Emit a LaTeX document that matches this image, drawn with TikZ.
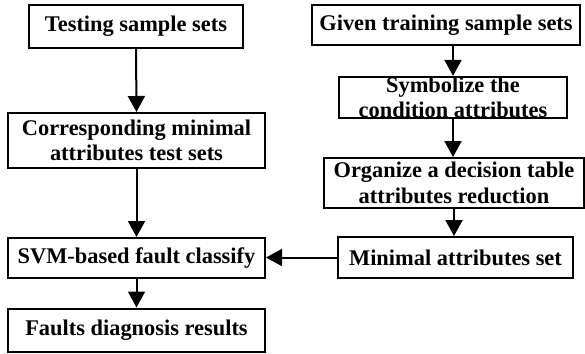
\documentclass[tikz,border=0pt]{standalone}
\usepackage{fontspec}
\setmainfont{Liberation Serif}
\usetikzlibrary{arrows.meta}
\begin{document}
\begin{tikzpicture}[x=1pt,y=-1pt,
  box/.style={draw=black, line width=2pt, fill=white, inner sep=0pt, align=center,
    font=\fontsize{22.4}{25.5}\selectfont\bfseries},
  flow/.style={line width=2pt, -{Triangle[length=16pt,width=17pt]}}]
  \useasboundingbox[fill=white] (0,0) rectangle (585,353);
  % left column
  \node[box, minimum width=214pt, minimum height=43pt] (test) at (136,26.5) {Testing sample sets};
  \node[box, minimum width=257pt, minimum height=55pt] (corr) at (136.5,140.5) {Corresponding minimal\\attributes test sets};
  \node[box, minimum width=257pt, minimum height=40pt] (svm) at (136.5,258) {SVM-based fault classify};
  \node[box, minimum width=257pt, minimum height=43pt] (res) at (136.5,330) {Faults diagnosis results};
  % right column
  \node[box, minimum width=268pt, minimum height=40pt] (given) at (446,25) {Given training sample sets};
  \node[box, minimum width=228pt, minimum height=41pt] (symb) at (453,97.5) {Symbolize the\\condition attributes};
  \node[box, minimum width=260pt, minimum height=50pt] (org) at (454,183) {Organize a decision table\\attributes reduction};
  \node[box, minimum width=235pt, minimum height=41pt] (mini) at (455.5,257.5) {Minimal attributes set};
  % connectors
  \draw[flow] (test.south) -- (corr.north);
  \draw[flow] (corr.south) -- (svm.north);
  \draw[flow] (svm.south) -- (res.north);
  \draw[flow] (given.south -| symb.north) -- (symb.north);
  \draw[flow] (symb.south) -- (symb.south |- org.north);
  \draw[flow] (org.south) -- (org.south |- mini.north);
  \draw[flow] (mini.west) -- (svm.east |- mini.west);
\end{tikzpicture}
\end{document}
